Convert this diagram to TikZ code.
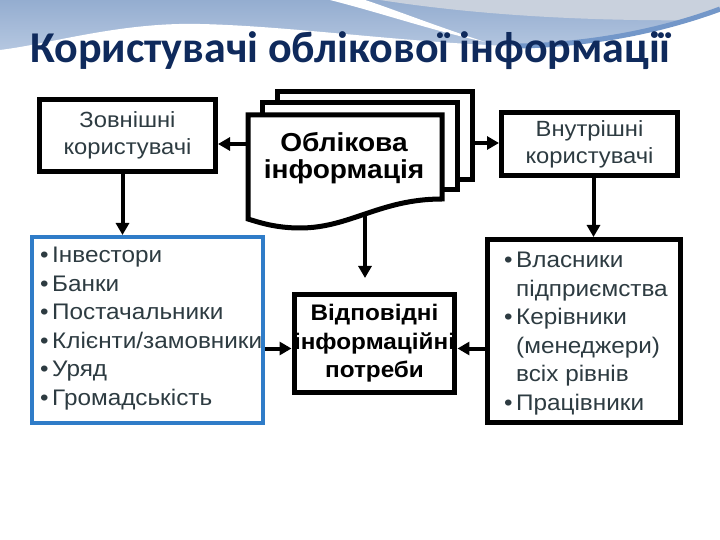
\documentclass[tikz,border=0pt]{standalone}
\usepackage{fontspec}
\setmainfont{Liberation Sans}[FakeStretch=1.08]
\newfontfamily\titlefont{Carlito}
\usetikzlibrary{arrows.meta,positioning}

\definecolor{titleblue}{HTML}{0F2A5C}
\definecolor{listblue}{HTML}{2F7CC8}
\definecolor{textgray}{HTML}{2D3B41}
\definecolor{skytop}{HTML}{94ADD0}
\definecolor{skybottom}{HTML}{B9CAE2}
\definecolor{skygray}{HTML}{C9D1DD}
\definecolor{skystripe}{HTML}{7397C9}

\newcommand{\bul}{\makebox[12bp][l]{•}}

\begin{document}
\begin{tikzpicture}[x=1bp, y=-1bp,
    box/.style={draw, line width=5bp, fill=white, align=center, text=textgray, inner sep=0pt, font=\fontsize{22bp}{27bp}\selectfont},
    listbox/.style={draw, line width=5bp, fill=white, inner sep=0pt},
    listtext/.style={anchor=north west, align=left, text=textgray, inner sep=0pt, font=\fontsize{22.5bp}{28.5bp}\selectfont},
    doc/.style={draw, line width=5bp, fill=white},
    arrow/.style={line width=4bp, -{Triangle[width=13bp,length=12bp]}}
]
    % background
    \useasboundingbox (0,0) rectangle (720,540);
    \fill[white] (0,0) rectangle (720,540);
    \shade[top color=skytop, bottom color=skybottom] (0,0) rectangle (720,56);
    \fill[skygray] (380,0) .. controls (470,14) and (580,22) .. (720,20) -- (720,0) -- cycle;
    \fill[white] (330,0) .. controls (385,14) and (430,30) .. (485,42) .. controls (430,24) and (390,8) .. (365,0) -- cycle;
    \fill[white] (0,50) .. controls (50,44) and (120,22) .. (200,24) .. controls (290,26) and (400,42) .. (510,46) .. controls (600,48) and (680,26) .. (720,12) -- (720,60) -- (0,60) -- cycle;
    \draw[skystripe, line width=5bp] (520,46) .. controls (610,44) and (680,24) .. (720,9);

    \node (title) [anchor=base west, inner sep=0pt, text=titleblue, font=\titlefont\bfseries\fontsize{44bp}{44bp}\selectfont] at (30,63) {Користувачі облікової інформації};

    % users
    \node (ext) [box, minimum width=176bp, minimum height=72bp] at (127.5,135.5) {Зовнішні\\користувачі};
    \node (int) [box, minimum width=176bp, minimum height=63bp] at (589.5,144) {Внутрішні\\користувачі};

    % accounting information (stacked documents)
    \draw[doc] (277,92) rectangle (472,180);
    \draw[doc] (262,103) rectangle (457,190);
    \draw[doc] (248,115) -- (442,115) -- (442,199) .. controls (380,199) and (350,228) .. (300,228) .. controls (275,228) and (258,222) .. (248,219) -- cycle;
    \node (info) [align=center, inner sep=0pt, font=\bfseries\fontsize{26bp}{27bp}\selectfont] at (344,158) {Облікова\\інформація};
    \coordinate (docL) at (248,144);
    \coordinate (docR) at (472,143);
    \coordinate (docB) at (365,214);

    % lists
    \node (lst) [listbox, draw=listblue, line width=4bp, minimum width=231bp, minimum height=186bp] at (147.5,330) {};
    \node (extlist) [listtext] at (40,247) {\bul Інвестори\\\bul Банки\\\bul Постачальники\\\bul Клієнти/замовники\\\bul Уряд\\\bul Громадськість};

    \node (rlst) [listbox, minimum width=193bp, minimum height=183bp] at (584,331) {};
    \node (intlist) [listtext] at (504,252) {\bul Власники\\\hspace*{12bp}підприємства\\\bul Керівники\\\hspace*{12bp}(менеджери)\\\hspace*{12bp}всіх рівнів\\\bul Працівники};

    \node (needs) [draw, line width=5bp, fill=white, align=center, inner sep=0pt, minimum width=160bp, minimum height=98bp, font=\bfseries\fontsize{22.5bp}{28.5bp}\selectfont] at (374.5,343.5) {Відповідні\\інформаційні\\потреби};

    % connectors
    \draw[arrow] (docL) -- (ext.east |- docL);
    \draw[arrow] (docR) -- (int.west |- docR);
    \draw[arrow, shorten >=14bp] (docB) -- (docB |- needs.north);
    \draw[arrow] ([xshift=-5bp]ext.south) -- ([xshift=-5bp]ext.south |- lst.north);
    \draw[arrow] ([xshift=4bp]int.south) -- ([xshift=4bp]int.south |- rlst.north);
    \draw[arrow] ([yshift=-5bp]lst.east |- needs.west) -- ([yshift=-5bp]needs.west);
    \draw[arrow] ([yshift=-5bp]rlst.west |- needs.east) -- ([yshift=-5bp]needs.east);
\end{tikzpicture}
\end{document}
